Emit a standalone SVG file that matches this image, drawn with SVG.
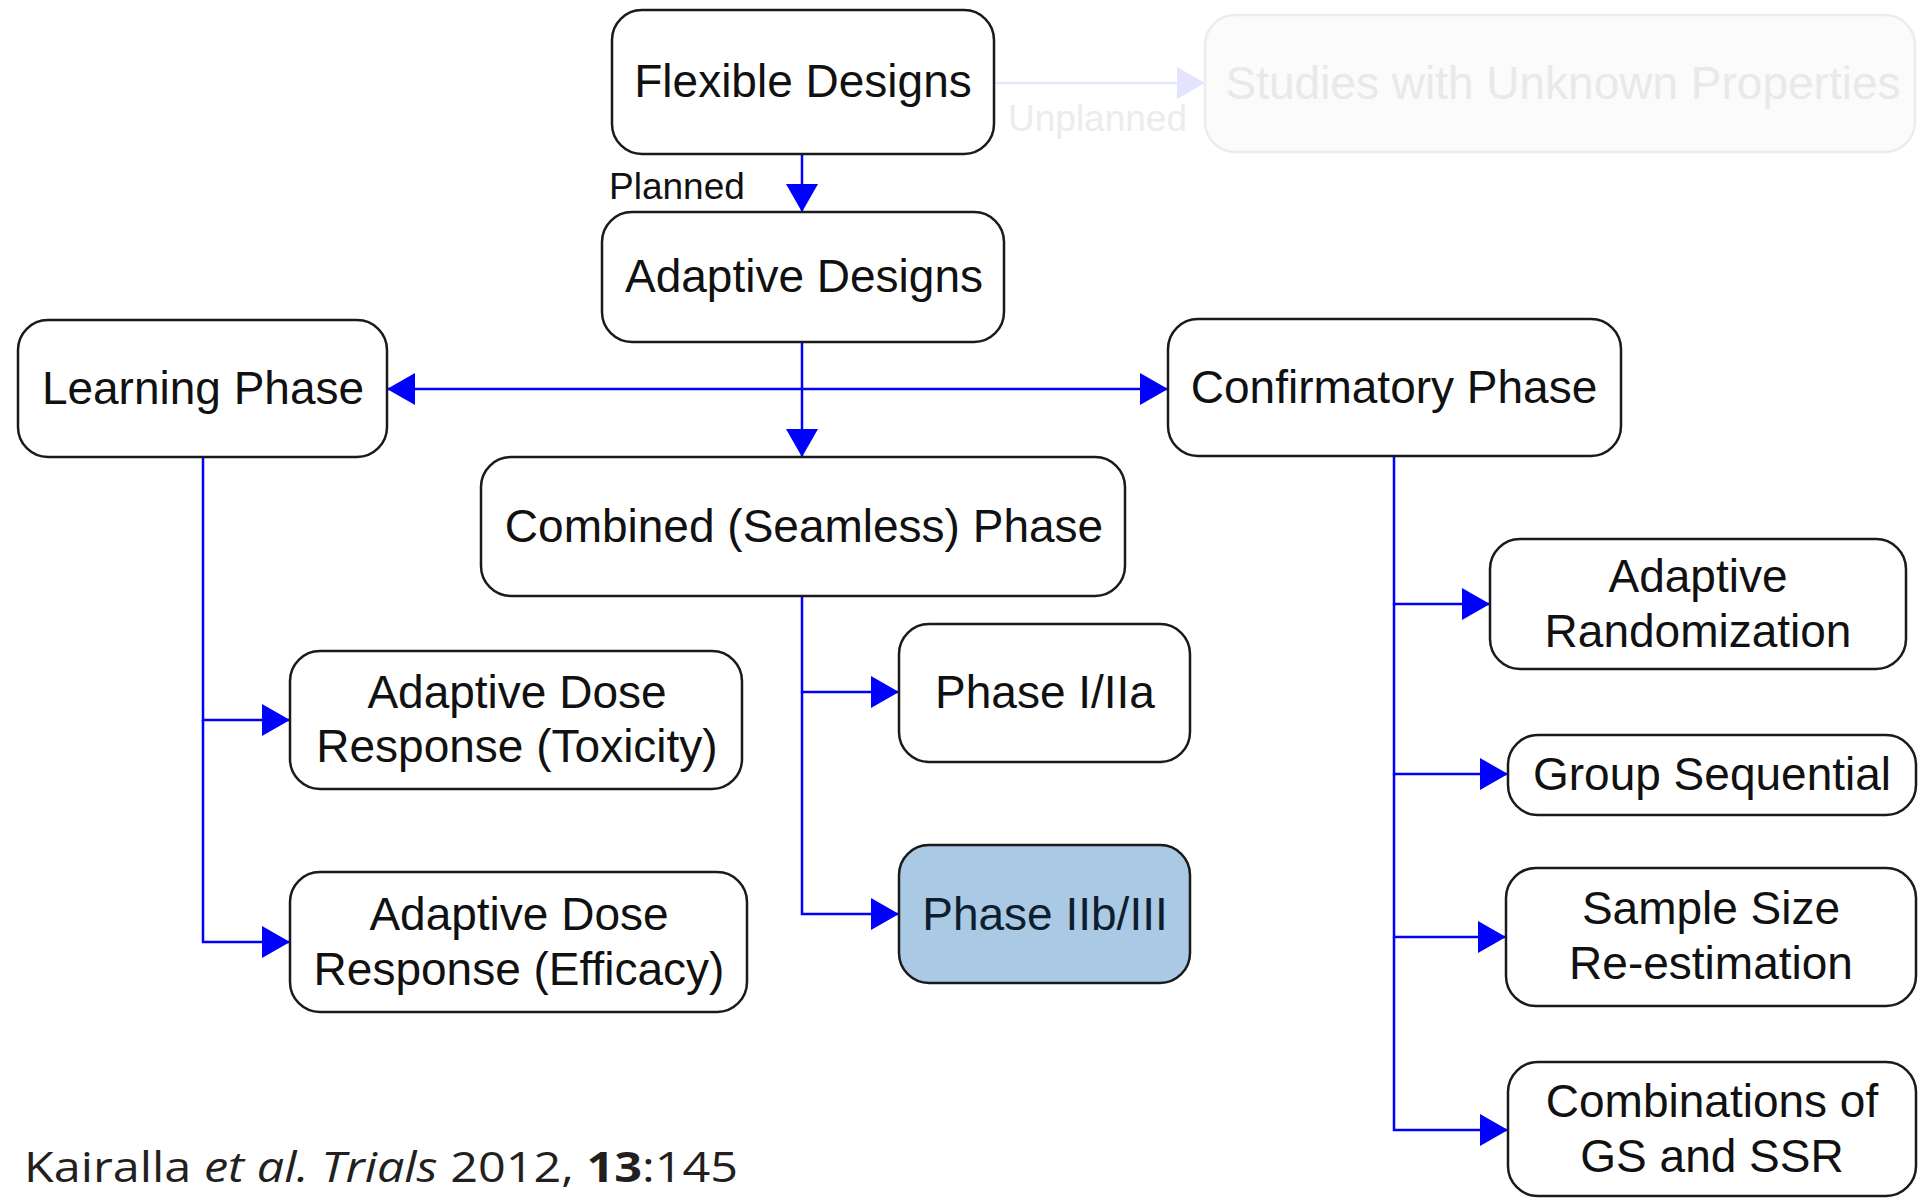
<svg xmlns="http://www.w3.org/2000/svg" width="1918" height="1198" viewBox="0 0 1918 1198">
<defs>
<style>
.box{fill:#ffffff;stroke:#1a1a1a;stroke-width:2.5}
.hl{fill:#a9c9e4;stroke:#1a1a1a;stroke-width:2.5}
.faded{fill:#fbfbfb;stroke:#ececec;stroke-width:2.5}
.t{font-family:"Liberation Sans",Arial,Helvetica,sans-serif;font-size:46px;fill:#111111;text-anchor:middle}
.tf{font-family:"Liberation Sans",Arial,Helvetica,sans-serif;font-size:46px;fill:#e9e9e9;text-anchor:middle}
.lbl{font-family:"Liberation Sans",Arial,Helvetica,sans-serif;font-size:37px;fill:#111111}
.lblf{font-family:"Liberation Sans",Arial,Helvetica,sans-serif;font-size:37px;fill:#ececec}
.c{fill:none;stroke:#0000ff;stroke-width:2.5}
.cf{fill:none;stroke:#e6e6ff;stroke-width:2.5}
.cite{font-family:"Open Sans","Liberation Sans",sans-serif;font-size:42px;fill:#231f20}
</style>
<marker id="ah" markerUnits="userSpaceOnUse" markerWidth="30" markerHeight="32" refX="28" refY="16" orient="auto">
<path d="M0,0 L28,16 L0,32 z" fill="#0000ff"/>
</marker>
<marker id="ahf" markerUnits="userSpaceOnUse" markerWidth="30" markerHeight="32" refX="28" refY="16" orient="auto">
<path d="M0,0 L28,16 L0,32 z" fill="#e4e4ff"/>
</marker>
</defs>
<rect width="1918" height="1198" fill="#ffffff"/>

<g id="connectors">
<path class="cf" d="M994,83 L1205,83" marker-end="url(#ahf)"/>
<text class="lblf" x="1008" y="131">Unplanned</text>
<path class="c" d="M802,154 L802,212" marker-end="url(#ah)"/>
<text class="lbl" x="609" y="199">Planned</text>
<path class="c" d="M802,342 L802,457" marker-end="url(#ah)"/>
<path class="c" d="M802,389 L387,389" marker-end="url(#ah)"/>
<path class="c" d="M802,389 L1168,389" marker-end="url(#ah)"/>
<path class="c" d="M203,457 L203,720 L290,720" marker-end="url(#ah)"/>
<path class="c" d="M203,720 L203,942 L290,942" marker-end="url(#ah)"/>
<path class="c" d="M802,596 L802,692 L899,692" marker-end="url(#ah)"/>
<path class="c" d="M802,692 L802,914 L899,914" marker-end="url(#ah)"/>
<path class="c" d="M1394,456 L1394,604 L1490,604" marker-end="url(#ah)"/>
<path class="c" d="M1394,604 L1394,774 L1508,774" marker-end="url(#ah)"/>
<path class="c" d="M1394,774 L1394,937 L1506,937" marker-end="url(#ah)"/>
<path class="c" d="M1394,937 L1394,1130 L1508,1130" marker-end="url(#ah)"/>
</g>

<g id="flexible-designs">
<rect class="box" x="612" y="10" width="382" height="144" rx="30"/>
<text class="t" x="803" y="97">Flexible Designs</text>
</g>
<g id="studies-unknown">
<rect class="faded" x="1205" y="15" width="710" height="137" rx="30"/>
<text class="tf" x="1563" y="99">Studies with Unknown Properties</text>
</g>
<g id="adaptive-designs">
<rect class="box" x="602" y="212" width="402" height="130" rx="30"/>
<text class="t" x="804" y="292">Adaptive Designs</text>
</g>
<g id="learning-phase">
<rect class="box" x="18" y="320" width="369" height="137" rx="30"/>
<text class="t" x="203" y="404">Learning Phase</text>
</g>
<g id="confirmatory-phase">
<rect class="box" x="1168" y="319" width="453" height="137" rx="30"/>
<text class="t" x="1394" y="403">Confirmatory Phase</text>
</g>
<g id="combined-phase">
<rect class="box" x="481" y="457" width="644" height="139" rx="30"/>
<text class="t" x="804" y="542">Combined (Seamless) Phase</text>
</g>
<g id="dose-toxicity">
<rect class="box" x="290" y="651" width="452" height="138" rx="30"/>
<text class="t" x="517" y="708">Adaptive Dose</text>
<text class="t" x="517" y="762">Response (Toxicity)</text>
</g>
<g id="dose-efficacy">
<rect class="box" x="290" y="872" width="457" height="140" rx="30"/>
<text class="t" x="519" y="930">Adaptive Dose</text>
<text class="t" x="519" y="985">Response (Efficacy)</text>
</g>
<g id="phase-i-iia">
<rect class="box" x="899" y="624" width="291" height="138" rx="30"/>
<text class="t" x="1045" y="708">Phase I/IIa</text>
</g>
<g id="phase-iib-iii">
<rect class="hl" x="899" y="845" width="291" height="138" rx="30"/>
<text class="t" x="1045" y="930" style="fill:#0f1e2e">Phase IIb/III</text>
</g>
<g id="adaptive-randomization">
<rect class="box" x="1490" y="539" width="416" height="130" rx="30"/>
<text class="t" x="1698" y="592">Adaptive</text>
<text class="t" x="1698" y="647">Randomization</text>
</g>
<g id="group-sequential">
<rect class="box" x="1508" y="735" width="408" height="80" rx="30"/>
<text class="t" x="1712" y="790">Group Sequential</text>
</g>
<g id="sample-size">
<rect class="box" x="1506" y="868" width="410" height="138" rx="30"/>
<text class="t" x="1711" y="924">Sample Size</text>
<text class="t" x="1711" y="979">Re-estimation</text>
</g>
<g id="combinations">
<rect class="box" x="1508" y="1062" width="408" height="134" rx="30"/>
<text class="t" x="1712" y="1117">Combinations of</text>
<text class="t" x="1712" y="1172">GS and SSR</text>
</g>

<text class="cite" x="24" y="1182" textLength="714" lengthAdjust="spacingAndGlyphs">Kairalla <tspan font-style="italic">et al.</tspan> <tspan font-style="italic">Trials</tspan> 2012, <tspan font-weight="bold">13</tspan>:145</text>
</svg>
